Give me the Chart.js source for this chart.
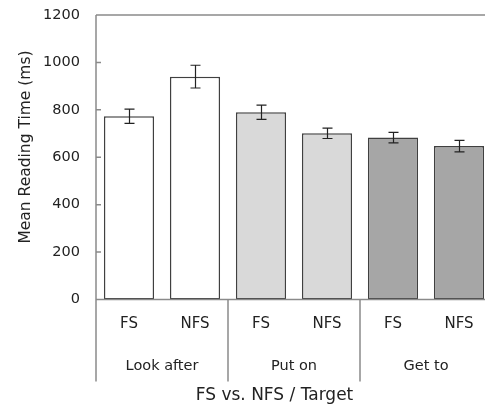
<!DOCTYPE html>
<html>
<head>
<meta charset="utf-8">
<script src="https://cdn.jsdelivr.net/npm/chart.js@4/dist/chart.umd.min.js"></script>
<style>
html,body{margin:0;padding:0;background:#fff;overflow:hidden;}
canvas{display:block;}
</style>
</head>
<body>
<canvas id="c" width="500" height="405"></canvas>
<script>
const categories = ["FS", "NFS", "FS", "NFS", "FS", "NFS"];
const groups = ["Look after", "Put on", "Get to"];
const meanValues = [773, 940, 790, 701, 683, 647];
const errorValues = [30, 48, 30, 22, 22, 24];
const barColors = ["#ffffff", "#ffffff", "#d9d9d9", "#d9d9d9", "#a6a6a6", "#a6a6a6"];
const yTicks = [0, 200, 400, 600, 800, 1000, 1200];
const yTitle = "Mean Reading Time (ms)";
const xTitle = "FS vs. NFS / Target";

const FONT = '"DejaVu Sans", Verdana, sans-serif';
const TEXT = '#222222';
const AXIS = '#8a8a8a';

const decor = {
  id: 'decor',
  afterDatasetsDraw(chart) {
    const ctx = chart.ctx, xs = chart.scales.x, ys = chart.scales.y, a = chart.chartArea;
    ctx.save();
    // error bars
    ctx.strokeStyle = '#222';
    ctx.lineWidth = 1.2;
    meanValues.forEach((v, i) => {
      const xc = Math.round(xs.getPixelForValue(i)) + 0.5;
      const yt = ys.getPixelForValue(v + errorValues[i]);
      const yb = ys.getPixelForValue(v - errorValues[i]);
      ctx.beginPath();
      ctx.moveTo(xc, yt); ctx.lineTo(xc, yb);
      ctx.moveTo(xc - 5, yt); ctx.lineTo(xc + 5, yt);
      ctx.moveTo(xc - 5, yb); ctx.lineTo(xc + 5, yb);
      ctx.stroke();
    });
    // axes
    const lowY = 381.5;
    ctx.strokeStyle = AXIS;
    ctx.lineWidth = 1.5;
    ctx.beginPath();
    ctx.moveTo(a.left, a.top); ctx.lineTo(chart.width, a.top);
    ctx.moveTo(a.left, a.top); ctx.lineTo(a.left, lowY);
    ctx.moveTo(a.left, a.bottom); ctx.lineTo(chart.width, a.bottom);
    const cw = xs.getPixelForValue(1) - xs.getPixelForValue(0);
    for (let g = 1; g <= groups.length; g++) {
      const xb = xs.getPixelForValue(g * 2) - cw / 2;
      ctx.moveTo(xb, a.bottom); ctx.lineTo(xb, lowY);
    }
    // inside ticks
    yTicks.forEach(t => {
      const yy = ys.getPixelForValue(t);
      ctx.moveTo(a.left, yy); ctx.lineTo(a.left + 5, yy);
    });
    ctx.stroke();
    // labels
    ctx.fillStyle = TEXT;
    ctx.textAlign = 'center';
    ctx.textBaseline = 'middle';
    ctx.font = '15px ' + FONT;
    categories.forEach((c, i) => {
      ctx.fillText(c, xs.getPixelForValue(i), 324);
    });
    ctx.font = '14.5px ' + FONT;
    groups.forEach((g, i) => {
      const xc = (xs.getPixelForValue(2 * i) + xs.getPixelForValue(2 * i + 1)) / 2;
      ctx.fillText(g, xc, 366);
    });
    ctx.font = '17px ' + FONT;
    ctx.fillText(xTitle, 274.5, 396);
    ctx.font = '15.5px ' + FONT;
    ctx.save();
    ctx.translate(25.5, 147);
    ctx.rotate(-Math.PI / 2);
    ctx.fillText(yTitle, 0, 0);
    ctx.restore();
    ctx.restore();
  }
};

new Chart(document.getElementById('c'), {
  type: 'bar',
  data: {
    labels: categories,
    datasets: [{
      data: meanValues,
      backgroundColor: barColors,
      borderColor: '#404040',
      borderWidth: 1.5,
      borderSkipped: false,
      categoryPercentage: 1,
      barPercentage: 0.76
    }]
  },
  options: {
    responsive: false,
    animation: false,
    events: [],
    layout: { padding: { top: 15, right: 8, left: 0, bottom: 0 } },
    plugins: { legend: { display: false }, tooltip: { enabled: false }, title: { display: false } },
    scales: {
      x: {
        grid: { display: false, drawTicks: false },
        border: { display: false },
        ticks: { display: false },
        afterFit(s) { s.height = 105.5; s.paddingLeft = 0; s.paddingRight = 0; }
      },
      y: {
        min: 0, max: 1200,
        grid: { display: false, drawTicks: false },
        border: { display: false },
        ticks: { stepSize: 200, padding: 16, color: TEXT, font: { family: FONT, size: 14.5 },
                 callback: (v) => String(v) },
        afterFit(s) { s.width = 96; s.paddingTop = 0; s.paddingBottom = 0; }
      }
    }
  },
  plugins: [decor]
});
</script>
</body>
</html>
